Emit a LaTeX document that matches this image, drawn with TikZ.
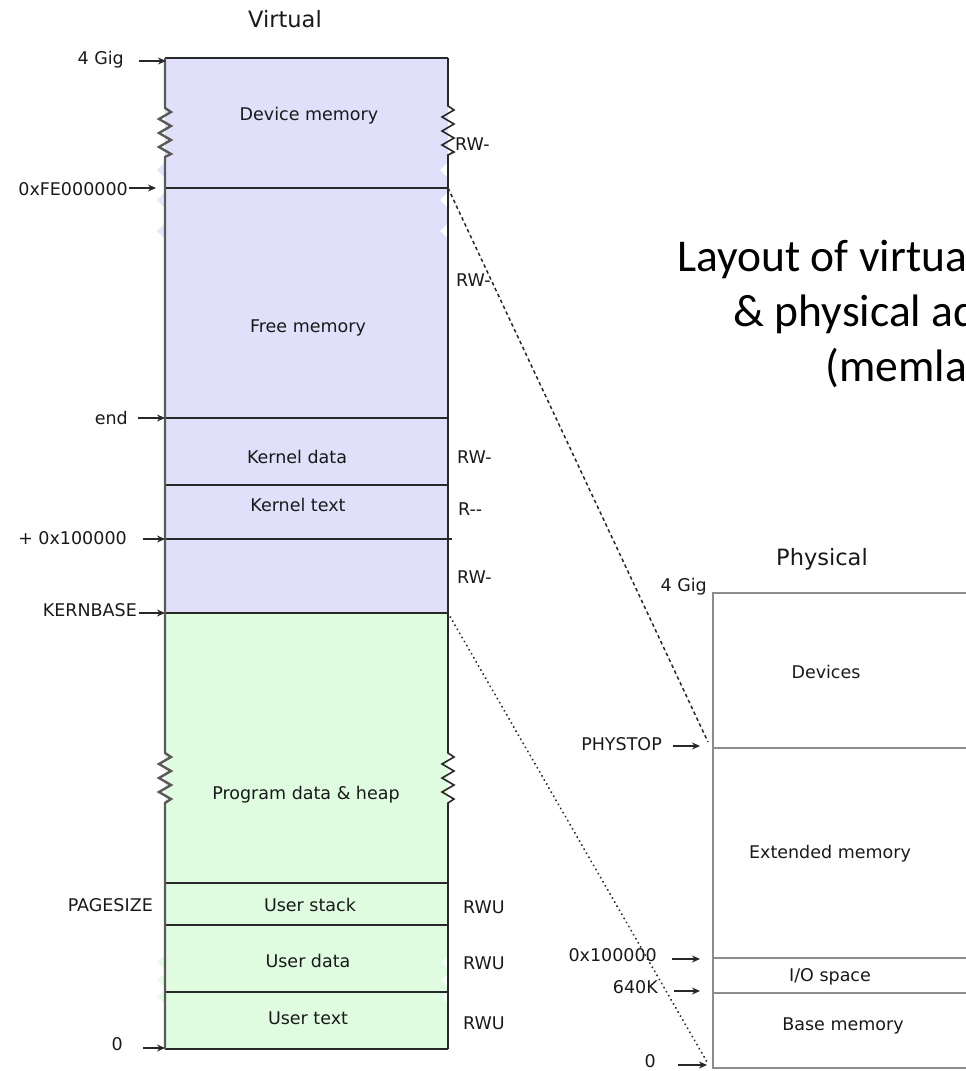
\documentclass[tikz,border=0pt]{standalone}
\usepackage{fontspec}
\setmainfont{DejaVu Sans}
\newfontfamily\titlefont{Carlito}
\usetikzlibrary{arrows.meta}
\definecolor{vblue}{RGB}{224,224,250}
\definecolor{vgreen}{RGB}{224,252,224}
\definecolor{edgecol}{RGB}{40,40,40}
\definecolor{leftedge}{RGB}{90,90,90}
\definecolor{pline}{RGB}{140,140,140}
\definecolor{txt}{RGB}{25,25,25}
\begin{document}
\begin{tikzpicture}[x=1pt,y=-1pt,
  lbl/.style={font=\fontsize{17.5}{20}\selectfont, text=txt, inner sep=0pt,
              text height=13pt, text depth=0pt},
  head/.style={font=\fontsize{22.5}{26}\selectfont, text=txt, inner sep=0pt,
               text height=16pt, text depth=0pt},
  ptr/.style={-{Stealth[length=8pt,width=7pt]}, line width=1.4pt, edgecol},
  sep/.style={line width=1.6pt, edgecol},
  psep/.style={line width=2pt, pline},
  maplink/.style={line width=1.5pt, edgecol},
  titletext/.style={font=\titlefont\fontsize{45.5}{55}\selectfont, align=center,
                    inner sep=0pt}]
\useasboundingbox (0,0) rectangle (966,1071);
\clip (0,0) rectangle (966,1071);

% ---------- virtual address space ----------
\fill[vblue]  (165,58)  rectangle (448,613);
\fill[vgreen] (165,613) rectangle (448,1049);

% soft notches along the edges of the fills
\foreach \yy in {170,200,231} {
  \fill[vblue!85!white] (165,\yy-8) -- (157,\yy) -- (165,\yy+8) -- cycle;
  \fill[white] (448,\yy-8) -- (440,\yy) -- (448,\yy+8) -- cycle;
}
\foreach \yy in {962,980,997} {
  \fill[vgreen!85!white] (165,\yy-7) -- (157,\yy) -- (165,\yy+7) -- cycle;
  \fill[white!70!vgreen] (448,\yy-7) -- (441,\yy) -- (448,\yy+7) -- cycle;
}

% region boundaries
\coordinate (vtopL) at (165,58);   \coordinate (vtopR) at (448,58);
\coordinate (vfeL)  at (165,188);  \coordinate (vFE)   at (448,188);
\coordinate (vendL) at (165,418);  \coordinate (vendR) at (448,418);
\coordinate (vktL)  at (165,485);  \coordinate (vktR)  at (448,485);
\coordinate (vmbL)  at (165,539);  \coordinate (vmbR)  at (452,539);
\coordinate (vkbL)  at (165,613);  \coordinate (vKB)   at (448,613);
\coordinate (vheapL) at (165,883); \coordinate (vheapR) at (448,883);
\coordinate (vstkL) at (165,925);  \coordinate (vstkR) at (448,925);
\coordinate (vdatL) at (165,992);  \coordinate (vdatR) at (448,992);
\coordinate (vbotL) at (165,1049); \coordinate (vbotR) at (448,1049);

\draw[sep] (vtopL) -- (vtopR);
\draw[sep] (vfeL) -- (vFE);
\draw[sep] (vendL) -- (vendR);
\draw[sep] (vktL) -- (vktR);
\draw[sep] (vmbL) -- (vmbR);
\draw[sep] (vkbL) -- (vKB);
\draw[sep] (vheapL) -- (vheapR);
\draw[sep] (vstkL) -- (vstkR);
\draw[sep] (vdatL) -- (vdatR);
\draw[line width=2.2pt, edgecol] (vbotL) -- (vbotR);

% side walls, broken by zigzags where the range is elided
\draw[line width=2.4pt, leftedge, line join=miter]
  (vtopL) -- (165,108) -- ++(6,4) -- ++(-12,7) -- ++(12,7) -- ++(-12,7)
  -- ++(12,7) -- ++(-12,7) -- ++(12,7) -- ++(-6,3)
  -- (165,753) -- ++(6,4) -- ++(-12,7) -- ++(12,7) -- ++(-12,7)
  -- ++(12,7) -- ++(-12,7) -- ++(12,7) -- ++(-6,4) -- (vbotL);
\draw[line width=1.6pt, edgecol, line join=miter]
  (vtopR) -- (448,106) -- ++(6,4) -- ++(-12,7) -- ++(12,7) -- ++(-12,7)
  -- ++(12,7) -- ++(-12,7) -- ++(12,7) -- ++(-6,3)
  -- (448,753) -- ++(6,4) -- ++(-12,7) -- ++(12,7) -- ++(-12,7)
  -- ++(12,7) -- ++(-12,7) -- ++(12,7) -- ++(-6,4) -- (vbotR);

% region names
\node[lbl] (devmem)  at (309,114)  {Device memory};
\node[lbl] (freemem) at (308,326)  {Free memory};
\node[lbl] (kdata)   at (297,457)  {Kernel data};
\node[lbl] (ktext)   at (298,505)  {Kernel text};
\node[lbl] (heap)    at (306,793)  {Program data \& heap};
\node[lbl] (ustack)  at (310,905)  {User stack};
\node[lbl] (udata)   at (308,961)  {User data};
\node[lbl] (utext)   at (308,1018) {User text};

\node[head] (virt) at (285,19) {Virtual};

% addresses on the left
\node[lbl, anchor=east] (l4g)   at (124,58)   {4 Gig};
\node[lbl, anchor=east] (lfe)   at (128,189)  {0xFE000000};
\node[lbl, anchor=east] (lend)  at (128,418)  {end};
\node[lbl, anchor=east] (lmb)   at (127,538)  {+ 0x100000};
\node[lbl, anchor=east] (lkb)   at (137,610)  {KERNBASE};
\node[lbl, anchor=east] (lpg)   at (153,905)  {PAGESIZE};
\node[lbl, anchor=east] (lzero) at (123,1044) {0};

\coordinate (a4gs) at (139,61);    \coordinate (a4ge) at (166,61);
\coordinate (afes) at (129,188);   \coordinate (afee) at (156,188);
\coordinate (aends) at (138,418);  \coordinate (aende) at (165,418);
\coordinate (ambs) at (143,539);   \coordinate (ambe) at (165,539);
\coordinate (akbs) at (139,613);   \coordinate (akbe) at (165,613);
\coordinate (a0s) at (143,1048);   \coordinate (a0e) at (165,1048);
\draw[ptr] (a4gs) -- (a4ge);
\draw[ptr] (afes) -- (afee);
\draw[ptr] (aends) -- (aende);
\draw[ptr] (ambs) -- (ambe);
\draw[ptr] (akbs) -- (akbe);
\draw[ptr] (a0s) -- (a0e);

% permissions on the right
\node[lbl, anchor=west] (p1) at (455,144)  {RW-};
\node[lbl, anchor=west] (p2) at (456,280)  {RW-};
\node[lbl, anchor=west] (p3) at (457,457)  {RW-};
\node[lbl, anchor=west] (p4) at (458,509)  {R-{}-};
\node[lbl, anchor=west] (p5) at (457,577)  {RW-};
\node[lbl, anchor=west] (p6) at (463,907)  {RWU};
\node[lbl, anchor=west] (p7) at (463,963)  {RWU};
\node[lbl, anchor=west] (p8) at (463,1023) {RWU};

% ---------- physical address space ----------
\coordinate (ptopL) at (713,593);   \coordinate (ptopR) at (990,593);
\coordinate (PHYSTOP) at (713,748); \coordinate (pstopR) at (990,748);
\coordinate (pmbL) at (713,958);    \coordinate (pmbR) at (990,958);
\coordinate (p640L) at (713,993);   \coordinate (p640R) at (990,993);
\coordinate (pbotL) at (713,1068);  \coordinate (pbotR) at (990,1068);
\draw[psep] (ptopR) -- (ptopL) -- (pbotL) -- (pbotR);
\draw[psep] (PHYSTOP) -- (pstopR);
\draw[psep] (pmbL) -- (pmbR);
\draw[psep] (p640L) -- (p640R);

\node[head] (phys) at (822,557) {Physical};
\node[lbl] (devices) at (826,672)  {Devices};
\node[lbl] (extmem)  at (830,852)  {Extended memory};
\node[lbl] (iospace) at (830,975)  {I/O space};
\node[lbl] (basemem) at (843,1024) {Base memory};

\node[lbl, anchor=east] (q4g)   at (707,585)  {4 Gig};
\node[lbl, anchor=east] (qstop) at (662,744)  {PHYSTOP};
\node[lbl, anchor=east] (qmb)   at (657,955)  {0x100000};
\node[lbl, anchor=east] (q640)  at (658,987)  {640K};
\node[lbl, anchor=east] (qzero) at (656,1061) {0};

\coordinate (bstops) at (673,746); \coordinate (bstope) at (700,746);
\coordinate (bmbs) at (672,959);   \coordinate (bmbe) at (700,959);
\coordinate (b640s) at (674,991);  \coordinate (b640e) at (700,991);
\coordinate (b0s) at (678,1065);   \coordinate (b0e) at (707,1065);
\draw[ptr] (bstops) -- (bstope);
\draw[ptr] (bmbs) -- (bmbe);
\draw[ptr] (b640s) -- (b640e);
\draw[ptr] (b0s) -- (b0e);

% mapping of virtual ranges onto physical memory
\coordinate (pPHY) at (708,742);
\coordinate (pZero) at (707,1062);
\draw[maplink, dash pattern=on 3.5pt off 3pt] (vFE) -- (pPHY);
\draw[edgecol, line width=2.1pt, line cap=round, dash pattern=on 0.1pt off 4.6pt]
  (vKB) -- (pZero);

% ---------- caption ----------
\node[titletext, anchor=base] (title) at (962,381)
  {Layout of virtual address space\\ \& physical address space\\ (memlayout.h)};
\end{tikzpicture}
\end{document}
